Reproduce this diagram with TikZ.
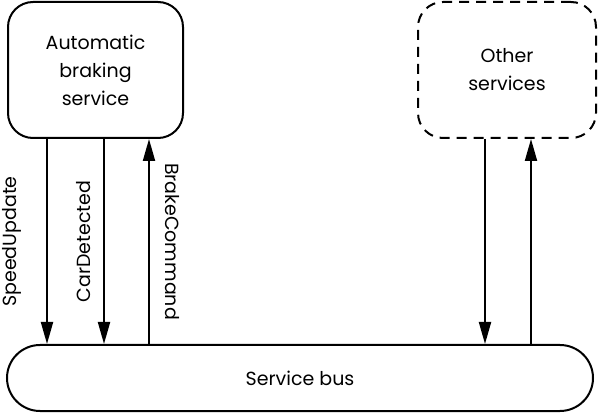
\documentclass[tikz,border=0pt]{standalone}
\usepackage{fontspec}
\setmainfont{Poppins}
\usetikzlibrary{arrows.meta,positioning}
\begin{document}
\begin{tikzpicture}[
		x=1pt, y=1pt,
		line width=2pt,
		service/.style={draw, rounded corners=25pt, minimum width=175pt, minimum height=136pt, align=center, font=\fontsize{19}{28}\selectfont},
		msg/.style={-{Triangle[length=22pt,width=12pt]}},
		lbl/.style={font=\fontsize{19}{22}\selectfont, inner sep=0pt}
	]
	\useasboundingbox (0,0) rectangle (600,418);
	\node[service] (asb) at (95.5,348) {Automatic\\braking\\service};
	\node[service, dashed, dash pattern=on 10pt off 7pt, minimum width=178pt] (other) at (507,348) {Other\\services};
	\node[draw, rounded corners=33pt, minimum width=586pt, minimum height=66pt, font=\fontsize{19}{22}\selectfont] (bus) at (300,40) {Service bus};
	% braking service
	\draw[msg] ([xshift=-48.5pt]asb.south) -- ([xshift=-48.5pt]asb.south |- bus.north)
		node[lbl, midway, rotate=90, anchor=south, yshift=25pt] {SpeedUpdate};
	\draw[msg] ([xshift=8.5pt]asb.south) -- ([xshift=8.5pt]asb.south |- bus.north)
		node[lbl, midway, rotate=90, anchor=south, yshift=12pt] {CarDetected};
	\draw[msg] ([xshift=53.5pt]asb.south |- bus.north) -- ([xshift=53.5pt]asb.south)
		node[lbl, midway, rotate=-90, anchor=south, yshift=15pt] {BrakeCommand};
	% other services
	\draw[msg] ([xshift=-22pt]other.south) -- ([xshift=-22pt]other.south |- bus.north);
	\draw[msg] ([xshift=24pt]other.south |- bus.north) -- ([xshift=24pt]other.south);
\end{tikzpicture}
\end{document}
